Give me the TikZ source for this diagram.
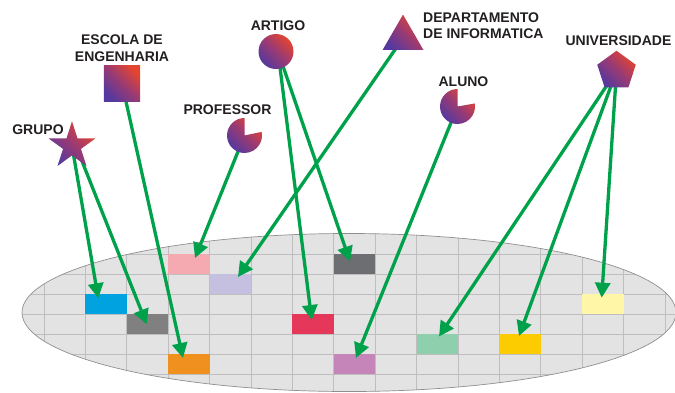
\documentclass[tikz,border=0pt]{standalone}
\usepackage{fontspec}
\setmainfont{Liberation Sans}
\usetikzlibrary{shapes.geometric,arrows.meta,calc}
\definecolor{txt}{HTML}{231F20}
\definecolor{iconred}{HTML}{E4452F}
\definecolor{iconmid}{HTML}{993A74}
\definecolor{iconblue}{HTML}{55399E}
\definecolor{arrowgreen}{HTML}{00A14B}
\definecolor{plane}{HTML}{E3E3E3}
\definecolor{gridc}{HTML}{BEBEBE}
\definecolor{rim}{HTML}{8F8F8F}
\definecolor{cblue}{HTML}{00A3E0}
\definecolor{cgray}{HTML}{808080}
\definecolor{corange}{HTML}{F0901E}
\definecolor{cpink}{HTML}{F4AAB0}
\definecolor{clav}{HTML}{C5C0E0}
\definecolor{cdgray}{HTML}{6D6E71}
\definecolor{cred}{HTML}{E4375A}
\definecolor{cmauve}{HTML}{C685B8}
\definecolor{cteal}{HTML}{8ECFAE}
\definecolor{cyellow}{HTML}{FCCB00}
\definecolor{clyellow}{HTML}{FFF6A8}
\begin{document}
\begin{tikzpicture}[x=1pt,y=-1pt,
  lbl/.style={font=\fontsize{14}{16.5}\selectfont\bfseries, text=txt, inner sep=0pt},
  icon/.style={top color=iconred, bottom color=iconblue, middle color=iconmid, shading angle=-45, draw=none, inner sep=0pt},
  cell/.style={minimum width=41.4pt, minimum height=20pt, inner sep=0pt, draw=none},
  link/.style={draw=arrowgreen, line width=3.3pt, -{Triangle[length=15pt,width=15pt]}},
  gridline/.style={draw=gridc, line width=0.7pt},
]
\useasboundingbox (0,0) rectangle (675,392);
% plane with grid
\fill[plane] (349,312.5) ellipse [x radius=327, y radius=79];
\begin{scope}
  \clip (349,312.5) ellipse [x radius=327, y radius=79];
  \foreach \i in {1,...,16} \draw[gridline] ({2.6+41.4*\i},230) -- ({2.6+41.4*\i},395);
  \foreach \j in {1,...,7} \draw[gridline] (20,{234+20*\j}) -- (680,{234+20*\j});
\end{scope}
\draw[rim, line width=0.7pt] (349,312.5) ellipse [x radius=327, y radius=79];
% cells
\node[cell, fill=cblue] (rblue) at (106.1,304) {};
\node[cell, fill=cgray] (rgray) at (147.5,324) {};
\node[cell, fill=corange] (rorange) at (188.9,364) {};
\node[cell, fill=cpink] (rpink) at (188.9,264) {};
\node[cell, fill=clav] (rlav) at (230.3,284) {};
\node[cell, fill=cdgray] (rdgray) at (354.5,264) {};
\node[cell, fill=cred] (rred) at (313.1,324) {};
\node[cell, fill=cmauve] (rmauve) at (354.5,364) {};
\node[cell, fill=cteal] (rteal) at (437.3,344) {};
\node[cell, fill=cyellow] (ryellow) at (520.1,344) {};
\node[cell, fill=clyellow] (rlyellow) at (602.9,304) {};
% icon anchors (named before the arrows)
\node[star, star points=5, star point ratio=2.618, minimum size=48, inner sep=0pt] (star) at (72,146) {};
\node[rectangle, minimum size=36, inner sep=0pt] (sq) at (122,83.5) {};
\node[circle, minimum size=35, inner sep=0pt] (prof) at (244.5,135.5) {};
\node[circle, minimum size=35, inner sep=0pt] (art) at (276,51.5) {};
\node[regular polygon, regular polygon sides=3, minimum size=46.2, inner sep=0pt] (dep) at (403,38.1) {};
\node[circle, minimum size=35, inner sep=0pt] (alu) at (457.5,106.5) {};
\node[regular polygon, regular polygon sides=5, minimum size=40, inner sep=0pt] (uni) at (616.5,71) {};
% arrows
\draw[link] (star.center) -- ($(rblue)+(-7.8,-5.7)$);
\draw[link] ($(star.center)+(4,0)$) -- ($(rgray)+(-0.8,0.3)$);
\draw[link] (sq.center) -- ($(rorange)+(-5.9,-6)$);
\draw[link] (prof.center) -- ($(rpink)+(6.1,-6)$);
\draw[link] (dep.center) -- ($(rlav)+(7.7,-7)$);
\draw[link] ($(art.center)+(2,0)$) -- ($(rred)+(-1.4,-4)$);
\draw[link] ($(art.center)+(2,0)$) -- ($(rdgray)+(-4.5,-2.5)$);
\draw[link] (alu.center) -- ($(rmauve)+(1.5,-6)$);
\draw[link] (uni.center) -- ($(rteal)+(1.7,-7.5)$);
\draw[link] (uni.center) -- ($(ryellow)+(-1.1,-8)$);
\draw[link] (uni.center) -- ($(rlyellow)+(-1.2,-6.3)$);
% icons
\shade[icon] (star.outer point 1) -- (star.inner point 1) -- (star.outer point 2) -- (star.inner point 2) -- (star.outer point 3) -- (star.inner point 3) -- (star.outer point 4) -- (star.inner point 4) -- (star.outer point 5) -- (star.inner point 5) -- cycle;
\shade[icon] (sq.north west) rectangle (sq.south east);
\shade[icon] (art.center) circle [radius=17.5];
\shade[icon] (dep.corner 1) -- (dep.corner 2) -- (dep.corner 3) -- cycle;
\shade[icon] (uni.corner 1) -- (uni.corner 2) -- (uni.corner 3) -- (uni.corner 4) -- (uni.corner 5) -- cycle;
\shade[icon] (prof.center) -- ++(-90:17.5) arc [start angle=-90, end angle=-372, radius=17.5] -- cycle;
\shade[icon] (alu.center) -- ++(-90:17.5) arc [start angle=-90, end angle=-370, radius=17.5] -- cycle;
% labels
\node[lbl, anchor=base] (lgrupo) at (38,134) {GRUPO};
\node[lbl, anchor=north, align=center, font=\fontsize{14}{17}\selectfont\bfseries] (lescola) at (122,35) {ESCOLA DE\\ENGENHARIA};
\node[lbl, anchor=base] (lprof) at (227.5,114) {PROFESSOR};
\node[lbl, anchor=base] (lart) at (278,30) {ARTIGO};
\node[lbl, anchor=north west, align=left, font=\fontsize{14}{16}\selectfont\bfseries] (ldep) at (423,13) {DEPARTAMENTO\\DE INFORMATICA};
\node[lbl, anchor=base] (lalu) at (463.5,86) {ALUNO};
\node[lbl, anchor=base] (luni) at (618.5,45) {UNIVERSIDADE};
\end{tikzpicture}
\end{document}
